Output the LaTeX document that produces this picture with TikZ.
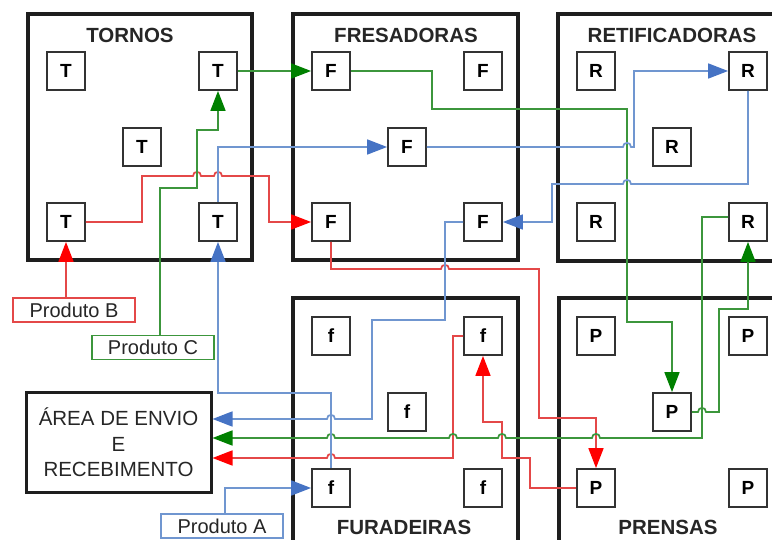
\documentclass[tikz,border=0pt]{standalone}
\usepackage{fontspec}
\setmainfont{Liberation Sans}
\usetikzlibrary{arrows.meta,calc}
\definecolor{rl}{RGB}{228,72,72}
\definecolor{rt}{RGB}{255,0,0}
\definecolor{gl}{RGB}{60,150,60}
\definecolor{gt}{RGB}{0,128,0}
\definecolor{bl}{RGB}{112,150,208}
\definecolor{bt}{RGB}{70,115,196}
\definecolor{frame}{RGB}{30,30,30}
\newcommand\hopR[2]{-- (#1-4,#2) .. controls (#1-4,#2-5.5) and (#1+4,#2-5.5) .. (#1+4,#2)}
\newcommand\hopL[2]{-- (#1+4,#2) .. controls (#1+4,#2-5.5) and (#1-4,#2-5.5) .. (#1-4,#2)}
\tikzset{
  dept/.style={draw=frame,line width=3.2pt,fill=none},
  depttitle/.style={font=\fontsize{20.5}{24}\selectfont\bfseries,text=black!85,inner sep=0pt},
  mach/.style={draw=black!80,line width=1.8pt,fill=white,minimum width=38pt,minimum height=38pt,inner sep=0pt,font=\fontsize{19}{22}\selectfont\bfseries},
  prod/.style={line width=1.4pt,fill=white,minimum width=122pt,minimum height=24pt,inner sep=0pt,font=\fontsize{20}{24}\selectfont,text=black!85},
  rline/.style={draw=rl,line width=1.7pt,-{Triangle[length=20pt,width=15pt,color=rt]}},
  gline/.style={draw=gl,line width=1.7pt,-{Triangle[length=20pt,width=15pt,color=gt]}},
  bline/.style={draw=bl,line width=1.7pt,-{Triangle[length=20pt,width=15pt,color=bt]}},
}
\begin{document}
\begin{tikzpicture}[x=1pt,y=-1pt]
\useasboundingbox (0,0) rectangle (772,540);
% departments
\draw[dept] (28,14) rectangle (252,260);
\draw[dept] (293,14) rectangle (518,260);
\draw[dept] (558,14) rectangle (800,261);
\draw[dept] (293,298) rectangle (518,570);
\draw[dept] (559,298) rectangle (800,570);
\node[depttitle] (tTor) at (130,35) {TORNOS};
\node[depttitle] (tFre) at (406,35) {FRESADORAS};
\node[depttitle] (tRet) at (672,35) {RETIFICADORAS};
\node[depttitle] (tFur) at (404,527) {FURADEIRAS};
\node[depttitle] (tPre) at (668,527) {PRENSAS};
% area
\node[draw=frame,line width=3pt,minimum width=185pt,minimum height=99pt,inner sep=0pt,align=center,
  font=\fontsize{20.5}{25.5}\selectfont,text=black!85] (Area) at (118.5,442.5) {ÁREA DE ENVIO\\E\\RECEBIMENTO};
% products
\node[prod,draw=rl] (ProdB) at (74,310) {Produto B};
\node[prod,draw=gl] (ProdC) at (153,347.5) {Produto C};
\node[prod,draw=bl] (ProdA) at (222,526) {Produto A};
% machines
\foreach \n/\x/\y/\l in {T1/66/71/T,T2/218/71/T,T3/142/147/T,T4/66/222/T,T5/218/222/T,
  F1/331/71/F,F2/483/71/F,F3/407/147/F,F4/331/222/F,F5/483/222/F,
  R1/596/71/R,R2/748/71/R,R3/672/147/R,R4/596/222/R,R5/748/222/R,
  f1/331/336/f,f2/483/336/f,f3/407/412/f,f4/331/488/f,f5/483/488/f,
  P1/596/336/P,P2/748/336/P,P3/672/412/P,P4/596/488/P,P5/748/488/P}
  {\node[mach] (\n) at (\x,\y) {\l};}
% red
\draw[rline] (T4.south |- ProdB.north) -- (T4.south);
\draw[rline] (T4.east) -- (142,222) -- (142,176) \hopR{197}{176} \hopR{218}{176} -- (269,176) -- (269,222) -- (F4.west);
\draw[rline] (F4.south) -- (331,269) \hopR{445}{269} -- (539,269) -- (539,418) -- (596,418) -- (P4.north);
\draw[rline] (P4.west) -- (530,488) -- (530,458) -- (502,458) -- (502,422) -- (483,422) -- (f2.south);
\draw[rline] (f2.west) -- (453,336) -- (453,458) \hopL{331}{458} -- (Area.east |- 0,458);
% green
\draw[gline] (ProdC.north -| 160,0) -- (160,188) -- (197,188) -- (197,130) -- (218,130) -- (T2.south);
\draw[gline] (T2.east) -- (F1.west);
\draw[gline] (F1.east) -- (432,71) -- (432,109) -- (627,109) -- (627,322) -- (672,322) -- (P3.north);
\draw[gline] (P3.east) \hopR{702}{412} -- (719,412) -- (719,309) -- (748,309) -- (R5.south);
\draw[gline] (R5.west |- 0,217) -- (702,217) -- (702,438) \hopL{596}{438} \hopL{502}{438} \hopL{453}{438} \hopL{331}{438} -- (Area.east |- 0,438);
% blue
\draw[bline] (ProdA.north -| 225,0) -- (225,488) -- (f4.west);
\draw[bline] (f4.north) -- (331,393) -- (218,393) -- (T5.south);
\draw[bline] (T5.north) -- (218,147) -- (F3.west);
\draw[bline] (F3.east) \hopR{627}{147} -- (634,147) -- (634,71) -- (R2.west);
\draw[bline] (R2.south) -- (748,184) \hopL{627}{184} -- (552,184) -- (552,222) -- (F5.east);
\draw[bline] (F5.west) -- (445,222) -- (445,320) -- (372,320) -- (372,419) \hopL{331}{419} -- (Area.east |- 0,419);
\end{tikzpicture}
\end{document}
